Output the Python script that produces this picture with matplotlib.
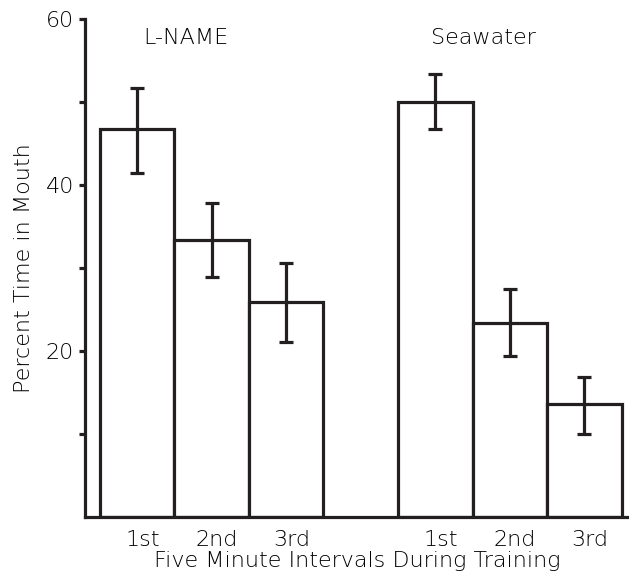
import numpy as np
import matplotlib
matplotlib.use('Agg')
import matplotlib.pyplot as plt
from matplotlib.ticker import FixedLocator

# values
groups = ['L-NAME', 'Seawater']
intervals = ['1st', '2nd', '3rd']
lname_mean = [46.7, 33.4, 25.9]
lname_hi = [51.7, 37.8, 30.6]
lname_lo = [41.4, 28.9, 21.1]
sea_mean = [50.0, 23.4, 13.6]
sea_hi = [53.4, 27.5, 16.9]
sea_lo = [46.7, 19.4, 10.0]

means = np.array(lname_mean + sea_mean)
hi = np.array(lname_hi + sea_hi)
lo = np.array(lname_lo + sea_lo)
pos = np.array([0, 1, 2, 4, 5, 6])

plt.rcParams['font.family'] = ['DejaVu Sans']
plt.rcParams['font.weight'] = 'light'
plt.rcParams['axes.labelweight'] = 'light'

fig = plt.figure(figsize=(6.29, 5.78), dpi=100)
ax = fig.add_axes([85 / 629, 1 - 517 / 578, 1 - 85 / 629, (517 - 19) / 578])

ink = '#231f20'
txt = '#000000'
lw = 2.3
fs = 16
ax.bar(pos, means, width=1.0, facecolor='white', edgecolor=ink, linewidth=lw, zorder=2)
ax.errorbar(pos, means, yerr=[means - lo, hi - means], fmt='none', ecolor=ink,
            elinewidth=lw, capsize=5, capthick=lw, zorder=3)

ax.set_xlim(-0.7, 6.6)
ax.set_ylim(0, 60)
for s in ['top', 'right']:
    ax.spines[s].set_visible(False)
for s in ['left', 'bottom']:
    ax.spines[s].set_linewidth(lw)
    ax.spines[s].set_color(ink)

ax.yaxis.set_major_locator(FixedLocator([20, 40, 60]))
ax.yaxis.set_minor_locator(FixedLocator([10, 30, 50]))
ax.tick_params(axis='y', which='both', direction='out', length=4, width=lw, color=ink,
               labelsize=fs, labelcolor=txt, pad=4)
ax.set_xticks(pos + 0.07)
ax.set_xticklabels(intervals * 2)
ax.tick_params(axis='x', length=0, labelsize=fs, labelcolor=txt, pad=9)

ax.set_xlabel('Five Minute Intervals During Training', fontsize=fs, color=txt, labelpad=1)
ax.set_ylabel('Percent Time in Mouth', fontsize=fs, color=txt, labelpad=8)

ax.text(0.65, 57.7, groups[0], ha='center', va='center', fontsize=fs, color=txt)
ax.text(4.65, 57.7, groups[1], ha='center', va='center', fontsize=fs, color=txt)

fig.savefig('out.png', dpi=100)
